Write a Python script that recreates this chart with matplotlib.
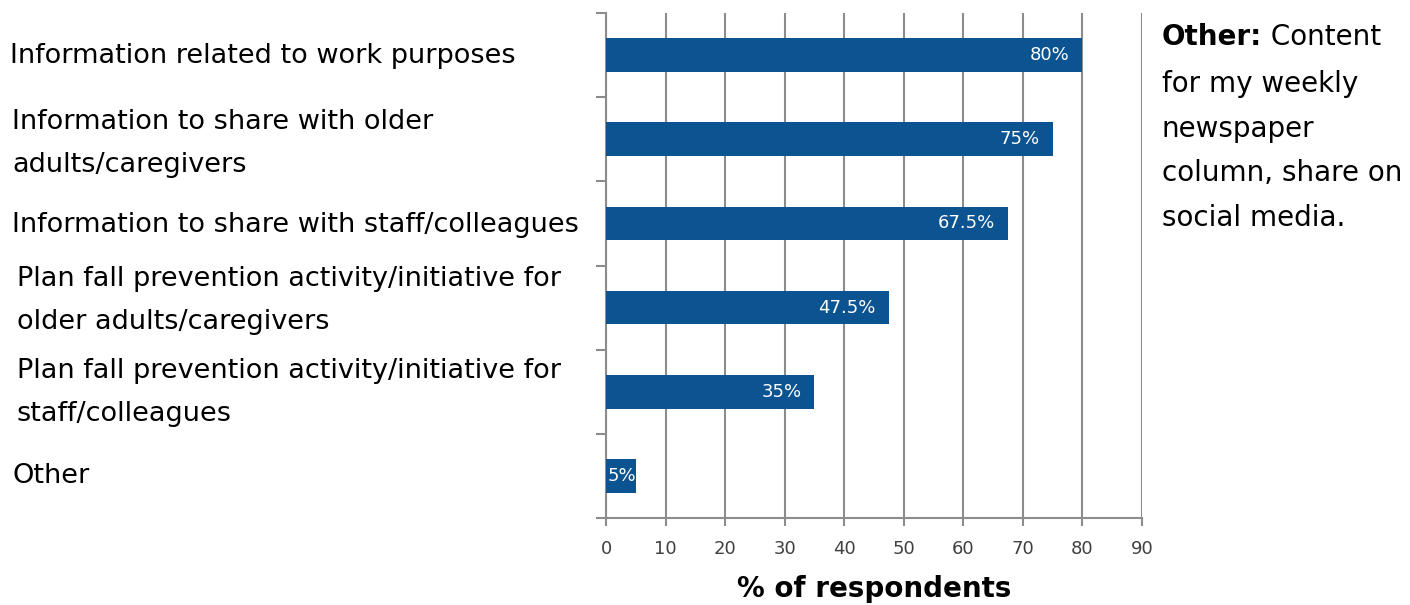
import matplotlib
matplotlib.use("Agg")
import matplotlib.pyplot as plt
import matplotlib.transforms as mtransforms

categories = [
    "Information related to work purposes",
    "Information to share with older\nadults/caregivers",
    "Information to share with staff/colleagues",
    "Plan fall prevention activity/initiative for\nolder adults/caregivers",
    "Plan fall prevention activity/initiative for\nstaff/colleagues",
    "Other",
]
values = [80, 75, 67.5, 47.5, 35, 5]
value_labels = ["80%", "75%", "67.5%", "47.5%", "35%", "5%"]
label_x_px = [10, 12, 12, 17, 17, 12]
label_dy_px = [-1, -4, -2, 7, -1, 0]
xticks = [0, 10, 20, 30, 40, 50, 60, 70, 80, 90]
xlabel = "% of respondents"
note_bold = "Other:"
note_rest_first = " Content"
note_rest = "for my weekly\nnewspaper\ncolumn, share on\nsocial media."

W, H = 1410, 605
fig = plt.figure(figsize=(W / 100, H / 100), dpi=100)
ax = fig.add_axes([606 / W, 1 - 518 / H, (1142 - 606) / W, (518 - 13) / H])

n = len(categories)
ypos = list(range(n))
bar_color = "#0B5391"
ax.barh(ypos, values, height=0.4, color=bar_color, zorder=3)
ax.set_ylim(n - 0.5, -0.5)
ax.set_xlim(0, 90)

grid_c = "#8c8c8c"
ax.set_xticks(xticks)
ax.set_xticklabels([str(t) for t in xticks], fontsize=13, color="#404040")
ax.xaxis.grid(True, color=grid_c, linewidth=1.5, zorder=0)
ax.set_yticks([i - 0.5 for i in range(n + 1)])
ax.set_yticklabels([])
ax.tick_params(axis="y", direction="out", length=7, width=1.5, color=grid_c)
ax.tick_params(axis="x", direction="out", length=6, width=1.5, color=grid_c, pad=10)
for s in ["top", "right"]:
    ax.spines[s].set_visible(False)
for s in ["left", "bottom"]:
    ax.spines[s].set_color(grid_c)
    ax.spines[s].set_linewidth(1.5)

for y, v, lab in zip(ypos, values, value_labels):
    if v > 10:
        ax.text(v - 2.2, y, lab, color="white", fontsize=13, ha="right", va="center", zorder=4)
    else:
        ax.text(0.3, y, lab, color="white", fontsize=13, ha="left", va="center", zorder=4)

blend = mtransforms.blended_transform_factory(fig.transFigure, ax.transData)
for y, cat, lx, dy in zip(ypos, categories, label_x_px, label_dy_px):
    ax.annotate(cat, xy=(lx / W, y), xycoords=blend, xytext=(0, dy * 0.72),
                textcoords="offset points", fontsize=19.5, color="black",
                ha="left", va="center", linespacing=1.83, annotation_clip=False)

ax.set_xlabel(xlabel, fontsize=20, fontweight="bold", labelpad=12)

t1 = fig.text(1162 / W, 1 - 37 / H, note_bold, fontsize=20, fontweight="bold", ha="left", va="center")
ax.annotate(note_rest_first, xy=(1, 0.5), xycoords=t1, fontsize=20, ha="left", va="center")
fig.text(1162 / W, 1 - 151 / H, note_rest, fontsize=20, ha="left", va="center", linespacing=1.76)

fig.savefig("out.png", dpi=100)
